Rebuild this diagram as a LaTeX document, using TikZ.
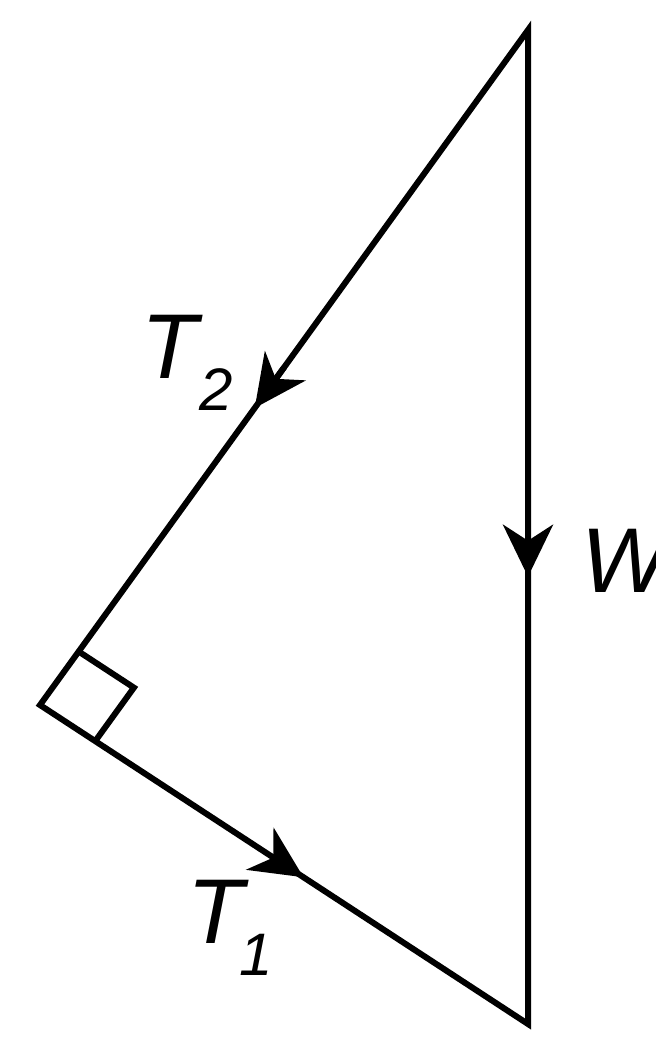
\documentclass[tikz,border=0pt]{standalone}
\usepackage{fontspec}
\setmainfont{Liberation Sans}
\usetikzlibrary{arrows.meta,calc}
\begin{document}
\begin{tikzpicture}[x=1pt,y=-1pt, line width=6pt,
  lbl/.style={font=\fontsize{92}{92}\selectfont\itshape, inner sep=0pt, anchor=base west},
  sublbl/.style={font=\fontsize{60}{60}\selectfont\itshape, inner sep=0pt, anchor=base west},
  arr/.style={-{Stealth[length=52pt,width=50pt,inset=16pt]}}]
\useasboundingbox (0,0) rectangle (656,1037);
\coordinate (A) at (528,30);
\coordinate (B) at (40,705);
\coordinate (C) at (528,1024);
\draw[line join=miter] (A) -- (B) -- (C) -- cycle;
% arrowheads
\draw[arr] ($(A)!0.50!(B)$) -- ($(A)!0.56!(B)$);
\draw[arr] ($(A)!0.50!(C)$) -- ($(A)!0.55!(C)$);
\draw[arr] ($(B)!0.48!(C)$) -- ($(B)!0.54!(C)$);
% right angle mark
\coordinate (P) at ($(B)!66pt!(A)$);
\coordinate (Q) at ($(B)!66pt!(C)$);
\draw (P) -- ($(P)+(Q)-(B)$) -- (Q);
% labels
\node[lbl] (t2) at (138,378) {T};
\node[sublbl] (s2) at (196,410) {2};
\node[lbl] (w) at (578,592) {W};
\node[lbl] (t1) at (184,943) {T};
\node[sublbl] (s1) at (236,975) {1};
\end{tikzpicture}
\end{document}
